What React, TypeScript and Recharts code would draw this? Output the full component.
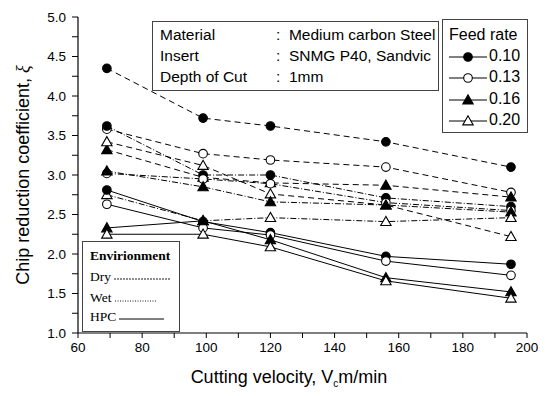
import React from "react";
import {
  LineChart,
  Line,
  XAxis,
  YAxis,
  Label,
} from "recharts";

const velocity = [69, 99, 120, 156, 195];

// Dry (dashed)
const dry010 = [4.35, 3.72, 3.62, 3.42, 3.1];
const dry013 = [3.58, 3.27, 3.19, 3.1, 2.78];
const dry016 = [3.32, 2.97, 2.9, 2.87, 2.72];
const dry020 = [3.42, 3.12, 2.76, 2.62, 2.22];

// Wet (dash-dot)
const wet010 = [3.62, 3.0, 3.0, 2.71, 2.6];
const wet013 = [3.02, 2.95, 2.89, 2.65, 2.55];
const wet016 = [3.05, 2.85, 2.66, 2.62, 2.53];
const wet020 = [2.75, 2.42, 2.46, 2.41, 2.46];

// HPC (solid)
const hpc010 = [2.81, 2.41, 2.27, 1.97, 1.87];
const hpc013 = [2.63, 2.33, 2.24, 1.91, 1.73];
const hpc016 = [2.33, 2.42, 2.18, 1.7, 1.52];
const hpc020 = [2.25, 2.25, 2.09, 1.66, 1.44];

const xTicks = [60, 70, 80, 90, 100, 110, 120, 130, 140, 150, 160, 170, 180, 190, 200];
const yTicks = [1, 1.25, 1.5, 1.75, 2, 2.25, 2.5, 2.75, 3, 3.25, 3.5, 3.75, 4, 4.25, 4.5, 4.75, 5];

const feedRates = ["0.10", "0.13", "0.16", "0.20"];
const shapes = ["circleFilled", "circleOpen", "triFilled", "triOpen"];

const series = [
  { key: "dry010", values: dry010, shape: 0, dash: "6 4" },
  { key: "dry013", values: dry013, shape: 1, dash: "6 4" },
  { key: "dry016", values: dry016, shape: 2, dash: "6 4" },
  { key: "dry020", values: dry020, shape: 3, dash: "6 4" },
  { key: "wet010", values: wet010, shape: 0, dash: "6 2 1 2" },
  { key: "wet013", values: wet013, shape: 1, dash: "6 2 1 2" },
  { key: "wet016", values: wet016, shape: 2, dash: "6 2 1 2" },
  { key: "wet020", values: wet020, shape: 3, dash: "6 2 1 2" },
  { key: "hpc010", values: hpc010, shape: 0, dash: undefined },
  { key: "hpc013", values: hpc013, shape: 1, dash: undefined },
  { key: "hpc016", values: hpc016, shape: 2, dash: undefined },
  { key: "hpc020", values: hpc020, shape: 3, dash: undefined },
];

const data = velocity.map((v, i) => {
  const row: Record<string, number> = { v };
  series.forEach((s) => {
    row[s.key] = s.values[i];
  });
  return row;
});

function Marker({ cx, cy, shape }: { cx: number; cy: number; shape: string }) {
  if (shape === "circleFilled" || shape === "circleOpen") {
    return (
      <circle
        cx={cx}
        cy={cy}
        r={4.3}
        fill={shape === "circleFilled" ? "#000" : "#fff"}
        stroke="#000"
        strokeWidth={1.1}
      />
    );
  }
  const s = 5.2;
  const pts = `${cx},${cy - s} ${cx - s},${cy + s * 0.75} ${cx + s},${cy + s * 0.75}`;
  return (
    <polygon
      points={pts}
      fill={shape === "triFilled" ? "#000" : "#fff"}
      stroke="#000"
      strokeWidth={1.1}
    />
  );
}

const font = "'Liberation Sans', Arial, sans-serif";
const serif = "'Liberation Serif', 'Times New Roman', serif";

export default function App() {
  return (
    <div style={{ position: "relative", width: 541, height: 380, fontFamily: font }}>
      <LineChart
        width={541}
        height={380}
        data={data}
        margin={{ top: 9, right: 22, left: 30, bottom: 25 }}
      >
        <XAxis
          dataKey="v"
          type="number"
          domain={[60, 200]}
          ticks={xTicks}
          interval={0}
          tickFormatter={(t: number) => (t % 20 === 0 ? String(t) : "")}
          tick={{ fontSize: 13.5, fill: "#000", fontFamily: font }}
          tickSize={5}
          tickMargin={4}
          axisLine={{ stroke: "#000", strokeWidth: 1.2 }}
          tickLine={{ stroke: "#000" }}
          height={30}
        >
          <Label
            position="bottom"
            content={() => (
              <text x={281} y={375} textAnchor="middle" fontSize={18} fontFamily={font} fill="#000">
                Cutting velocity, V
                <tspan fontSize={10} dy={4}>c</tspan>
                <tspan dy={-4}>m/min</tspan>
              </text>
            )}
          />
        </XAxis>
        <XAxis
          xAxisId="top"
          orientation="top"
          dataKey="v"
          type="number"
          domain={[60, 200]}
          ticks={xTicks}
          interval={0}
          tickFormatter={() => ""}
          mirror
          tickSize={4}
          axisLine={{ stroke: "#000", strokeWidth: 1.2 }}
          tickLine={{ stroke: "#000" }}
          height={0}
        />
        <YAxis
          type="number"
          domain={[1, 5]}
          ticks={yTicks}
          interval={0}
          tickFormatter={(t: number) => (Math.abs((t * 2) % 1) < 1e-9 ? t.toFixed(1) : "")}
          tick={{ fontSize: 13.5, fill: "#000", fontFamily: font }}
          tickSize={6}
          tickMargin={6}
          axisLine={{ stroke: "#000", strokeWidth: 1.2 }}
          tickLine={{ stroke: "#000" }}
          width={40}
        >
          <Label
            position="left"
            content={() => (
              <text
                x={21}
                y={167}
                transform="rotate(-90 21 167)"
                textAnchor="middle"
                fontSize={18}
                fontFamily={font}
                fill="#000"
              >
                Chip reduction coefficient,{" "}
                <tspan fontStyle="italic" fontFamily={serif}>ξ</tspan>
              </text>
            )}
          />
        </YAxis>
        <YAxis
          yAxisId="right"
          orientation="right"
          type="number"
          domain={[1, 5]}
          ticks={yTicks}
          interval={0}
          tickFormatter={() => ""}
          mirror
          tickSize={4}
          axisLine={{ stroke: "#000", strokeWidth: 1.2 }}
          tickLine={{ stroke: "#000" }}
          width={0}
        />
        {series.map((s) => (
          <Line
            key={s.key}
            dataKey={s.key}
            type="linear"
            stroke="#000"
            strokeWidth={1}
            strokeDasharray={s.dash}
            isAnimationActive={false}
            dot={(p: any) => (
              <Marker key={`${s.key}-${p.index}`} cx={p.cx} cy={p.cy} shape={shapes[s.shape]} />
            )}
            activeDot={false}
          />
        ))}
      </LineChart>

      {/* info box */}
      <div
        style={{
          position: "absolute",
          left: 144,
          top: 13,
          width: 285,
          height: 66,
          border: "1px solid #444",
          background: "#fff",
          fontSize: 15.5,
          lineHeight: "21px",
          paddingTop: 2,
          boxSizing: "content-box",
        }}
      >
        {[
          ["Material", "Medium carbon Steel"],
          ["Insert", "SNMG P40, Sandvic"],
          ["Depth of Cut", "1mm"],
        ].map(([k, v]) => (
          <div key={k} style={{ position: "relative", height: 21 }}>
            <span style={{ position: "absolute", left: 7 }}>{k}</span>
            <span style={{ position: "absolute", left: 123 }}>:&nbsp; {v}</span>
          </div>
        ))}
      </div>

      {/* feed rate legend */}
      <div
        style={{
          position: "absolute",
          left: 434,
          top: 11,
          width: 84,
          height: 112,
          border: "1px solid #444",
          background: "#fff",
          fontSize: 16,
        }}
      >
        <div style={{ position: "absolute", left: 6, top: 6 }}>Feed rate</div>
        {feedRates.map((f, i) => (
          <div key={f} style={{ position: "absolute", left: 5, top: 27 + i * 21.3, height: 20 }}>
            <svg width={40} height={20} style={{ position: "absolute", left: 0, top: 0 }}>
              <line x1={1} y1={10} x2={39} y2={10} stroke="#000" strokeWidth={1} />
              <Marker cx={20} cy={10} shape={shapes[i]} />
            </svg>
            <span style={{ position: "absolute", left: 41, top: 0 }}>{f}</span>
          </div>
        ))}
      </div>

      {/* environment legend */}
      <div
        style={{
          position: "absolute",
          left: 74,
          top: 233,
          width: 96,
          height: 89,
          border: "1px solid #444",
          background: "#fff",
          fontFamily: serif,
          fontSize: 13.5,
        }}
      >
        <div style={{ position: "absolute", left: 7, top: 6, fontWeight: "bold" }}>Envirionment</div>
        <div style={{ position: "absolute", left: 7, top: 27 }}>Dry</div>
        <svg width={60} height={6} style={{ position: "absolute", left: 31, top: 34 }}>
          <line x1={0} y1={3} x2={57} y2={3} stroke="#000" strokeWidth={0.9} strokeDasharray="2 1" />
        </svg>
        <div style={{ position: "absolute", left: 7, top: 48 }}>Wet</div>
        <svg width={60} height={6} style={{ position: "absolute", left: 32, top: 56 }}>
          <line x1={0} y1={3} x2={42} y2={3} stroke="#000" strokeWidth={0.9} strokeDasharray="1 1.5" />
        </svg>
        <div style={{ position: "absolute", left: 7, top: 67 }}>HPC</div>
        <svg width={60} height={6} style={{ position: "absolute", left: 36, top: 74 }}>
          <line x1={0} y1={3} x2={45} y2={3} stroke="#000" strokeWidth={1} />
        </svg>
      </div>
    </div>
  );
}
